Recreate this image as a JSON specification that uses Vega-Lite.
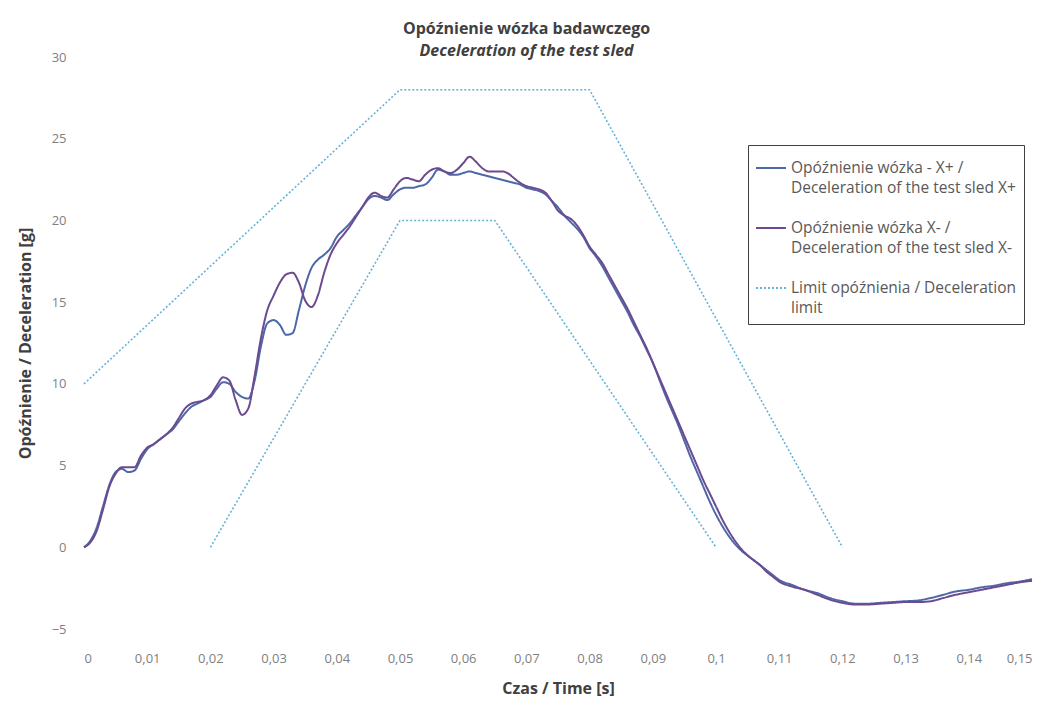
{
  "$schema": "https://vega.github.io/schema/vega-lite/v6.json",
  "width": 948,
  "height": 572,
  "autosize": {"type": "none"},
  "padding": {"left": 84, "top": 57, "right": 20, "bottom": 77},
  "background": "white",
  "config": {
    "view": {"stroke": null},
    "font": "Open Sans",
    "style": {"guide-label": {"lineHeight": 20}},
    "legend": {
      "orient": "none",
      "legendX": 664,
      "legendY": 88,
      "strokeColor": "#404040",
      "fillColor": "white",
      "padding": 7,
      "symbolType": "stroke",
      "symbolSize": 900,
      "symbolStrokeWidth": 2,
      "labelFontSize": 15.5,
      "labelColor": "#595959",
      "labelLimit": 320,
      "labelOffset": 4,
      "rowPadding": 15
    }
  },
  "title": {
    "text": "Opóźnienie wózka badawczego",
    "subtitle": "Deceleration of the test sled",
    "fontSize": 16,
    "fontWeight": "bold",
    "color": "#404040",
    "subtitleFontSize": 16,
    "subtitleFontStyle": "italic",
    "subtitleFontWeight": "bold",
    "subtitleColor": "#404040",
    "anchor": "middle",
    "frame": "bounds",
    "offset": -8,
    "subtitlePadding": 6
  },
  "datasets": {
    "curves": [
      {"s":"X+","t":0,"v":0},{"s":"X+","t":0.001,"v":0.4},{"s":"X+","t":0.002,"v":1.2},{"s":"X+","t":0.003,"v":2.5},{"s":"X+","t":0.004,"v":3.8},{"s":"X+","t":0.005,"v":4.6},{"s":"X+","t":0.006,"v":4.8},{"s":"X+","t":0.007,"v":4.6},{"s":"X+","t":0.008,"v":4.7},{"s":"X+","t":0.009,"v":5.4},
      {"s":"X+","t":0.010,"v":6.0},{"s":"X+","t":0.011,"v":6.3},{"s":"X+","t":0.012,"v":6.6},{"s":"X+","t":0.013,"v":6.9},{"s":"X+","t":0.014,"v":7.2},{"s":"X+","t":0.015,"v":7.7},{"s":"X+","t":0.016,"v":8.2},{"s":"X+","t":0.017,"v":8.6},{"s":"X+","t":0.018,"v":8.8},{"s":"X+","t":0.019,"v":9.0},
      {"s":"X+","t":0.020,"v":9.2},{"s":"X+","t":0.021,"v":9.7},{"s":"X+","t":0.022,"v":10.1},{"s":"X+","t":0.023,"v":10.0},{"s":"X+","t":0.024,"v":9.5},{"s":"X+","t":0.025,"v":9.2},{"s":"X+","t":0.026,"v":9.1},{"s":"X+","t":0.027,"v":10.2},{"s":"X+","t":0.028,"v":12.3},{"s":"X+","t":0.029,"v":13.7},
      {"s":"X+","t":0.030,"v":13.9},{"s":"X+","t":0.031,"v":13.6},{"s":"X+","t":0.032,"v":13.0},{"s":"X+","t":0.033,"v":13.1},{"s":"X+","t":0.034,"v":14.5},{"s":"X+","t":0.035,"v":16.0},{"s":"X+","t":0.036,"v":17.1},{"s":"X+","t":0.037,"v":17.6},{"s":"X+","t":0.038,"v":17.9},{"s":"X+","t":0.039,"v":18.3},
      {"s":"X+","t":0.040,"v":19.0},{"s":"X+","t":0.041,"v":19.4},{"s":"X+","t":0.042,"v":19.8},{"s":"X+","t":0.043,"v":20.3},{"s":"X+","t":0.044,"v":20.8},{"s":"X+","t":0.045,"v":21.3},{"s":"X+","t":0.046,"v":21.5},{"s":"X+","t":0.047,"v":21.4},{"s":"X+","t":0.048,"v":21.25},{"s":"X+","t":0.049,"v":21.6},
      {"s":"X+","t":0.050,"v":21.9},{"s":"X+","t":0.051,"v":22.0},{"s":"X+","t":0.052,"v":22.0},{"s":"X+","t":0.053,"v":22.1},{"s":"X+","t":0.054,"v":22.2},{"s":"X+","t":0.055,"v":22.6},{"s":"X+","t":0.056,"v":23.1},{"s":"X+","t":0.057,"v":23.0},{"s":"X+","t":0.058,"v":22.8},{"s":"X+","t":0.059,"v":22.8},
      {"s":"X+","t":0.060,"v":22.9},{"s":"X+","t":0.061,"v":23.0},{"s":"X+","t":0.062,"v":22.9},{"s":"X+","t":0.063,"v":22.8},{"s":"X+","t":0.064,"v":22.7},{"s":"X+","t":0.065,"v":22.6},{"s":"X+","t":0.066,"v":22.5},{"s":"X+","t":0.067,"v":22.4},{"s":"X+","t":0.068,"v":22.3},{"s":"X+","t":0.069,"v":22.2},
      {"s":"X+","t":0.070,"v":22.0},{"s":"X+","t":0.071,"v":21.9},{"s":"X+","t":0.072,"v":21.8},{"s":"X+","t":0.073,"v":21.6},{"s":"X+","t":0.074,"v":21.2},{"s":"X+","t":0.075,"v":20.8},{"s":"X+","t":0.076,"v":20.3},{"s":"X+","t":0.077,"v":19.9},{"s":"X+","t":0.078,"v":19.5},{"s":"X+","t":0.079,"v":19.0},
      {"s":"X+","t":0.080,"v":18.3},{"s":"X+","t":0.081,"v":17.8},{"s":"X+","t":0.082,"v":17.2},{"s":"X+","t":0.083,"v":16.5},{"s":"X+","t":0.084,"v":15.8},{"s":"X+","t":0.085,"v":15.1},{"s":"X+","t":0.086,"v":14.4},{"s":"X+","t":0.087,"v":13.6},{"s":"X+","t":0.088,"v":12.9},{"s":"X+","t":0.089,"v":12.1},
      {"s":"X+","t":0.090,"v":11.3},{"s":"X+","t":0.091,"v":10.3},{"s":"X+","t":0.092,"v":9.3},{"s":"X+","t":0.093,"v":8.4},{"s":"X+","t":0.094,"v":7.5},{"s":"X+","t":0.095,"v":6.5},{"s":"X+","t":0.096,"v":5.5},{"s":"X+","t":0.097,"v":4.6},{"s":"X+","t":0.098,"v":3.7},{"s":"X+","t":0.099,"v":2.8},
      {"s":"X+","t":0.100,"v":2.0},{"s":"X+","t":0.101,"v":1.3},{"s":"X+","t":0.102,"v":0.7},{"s":"X+","t":0.103,"v":0.2},{"s":"X+","t":0.104,"v":-0.2},{"s":"X+","t":0.105,"v":-0.5},{"s":"X+","t":0.106,"v":-0.8},{"s":"X+","t":0.107,"v":-1.1},{"s":"X+","t":0.108,"v":-1.4},{"s":"X+","t":0.109,"v":-1.7},
      {"s":"X+","t":0.110,"v":-2.0},{"s":"X+","t":0.112,"v":-2.3},{"s":"X+","t":0.114,"v":-2.6},{"s":"X+","t":0.116,"v":-2.8},{"s":"X+","t":0.118,"v":-3.1},{"s":"X+","t":0.120,"v":-3.3},{"s":"X+","t":0.122,"v":-3.45},{"s":"X+","t":0.124,"v":-3.45},{"s":"X+","t":0.126,"v":-3.4},{"s":"X+","t":0.128,"v":-3.35},
      {"s":"X+","t":0.130,"v":-3.3},{"s":"X+","t":0.132,"v":-3.25},{"s":"X+","t":0.134,"v":-3.1},{"s":"X+","t":0.136,"v":-2.9},{"s":"X+","t":0.138,"v":-2.7},{"s":"X+","t":0.140,"v":-2.6},{"s":"X+","t":0.142,"v":-2.45},{"s":"X+","t":0.144,"v":-2.35},{"s":"X+","t":0.146,"v":-2.2},{"s":"X+","t":0.148,"v":-2.1},{"s":"X+","t":0.150,"v":-1.95},

      {"s":"X-","t":0,"v":0},{"s":"X-","t":0.001,"v":0.3},{"s":"X-","t":0.002,"v":1.0},{"s":"X-","t":0.003,"v":2.3},{"s":"X-","t":0.004,"v":3.7},{"s":"X-","t":0.005,"v":4.5},{"s":"X-","t":0.006,"v":4.9},{"s":"X-","t":0.007,"v":4.9},{"s":"X-","t":0.008,"v":4.9},{"s":"X-","t":0.009,"v":5.6},
      {"s":"X-","t":0.010,"v":6.1},{"s":"X-","t":0.011,"v":6.3},{"s":"X-","t":0.012,"v":6.6},{"s":"X-","t":0.013,"v":6.9},{"s":"X-","t":0.014,"v":7.3},{"s":"X-","t":0.015,"v":7.9},{"s":"X-","t":0.016,"v":8.5},{"s":"X-","t":0.017,"v":8.8},{"s":"X-","t":0.018,"v":8.9},{"s":"X-","t":0.019,"v":9.0},
      {"s":"X-","t":0.020,"v":9.3},{"s":"X-","t":0.021,"v":9.9},{"s":"X-","t":0.022,"v":10.4},{"s":"X-","t":0.023,"v":10.2},{"s":"X-","t":0.024,"v":9.0},{"s":"X-","t":0.025,"v":8.1},{"s":"X-","t":0.026,"v":8.5},{"s":"X-","t":0.027,"v":10.5},{"s":"X-","t":0.028,"v":12.8},{"s":"X-","t":0.029,"v":14.5},
      {"s":"X-","t":0.030,"v":15.4},{"s":"X-","t":0.031,"v":16.2},{"s":"X-","t":0.032,"v":16.7},{"s":"X-","t":0.033,"v":16.8},{"s":"X-","t":0.034,"v":16.2},{"s":"X-","t":0.035,"v":15.1},{"s":"X-","t":0.036,"v":14.7},{"s":"X-","t":0.037,"v":15.4},{"s":"X-","t":0.038,"v":16.8},{"s":"X-","t":0.039,"v":17.9},
      {"s":"X-","t":0.040,"v":18.6},{"s":"X-","t":0.041,"v":19.1},{"s":"X-","t":0.042,"v":19.6},{"s":"X-","t":0.043,"v":20.2},{"s":"X-","t":0.044,"v":20.8},{"s":"X-","t":0.045,"v":21.4},{"s":"X-","t":0.046,"v":21.7},{"s":"X-","t":0.047,"v":21.5},{"s":"X-","t":0.048,"v":21.4},{"s":"X-","t":0.049,"v":21.9},
      {"s":"X-","t":0.050,"v":22.4},{"s":"X-","t":0.051,"v":22.6},{"s":"X-","t":0.052,"v":22.5},{"s":"X-","t":0.053,"v":22.4},{"s":"X-","t":0.054,"v":22.8},{"s":"X-","t":0.055,"v":23.1},{"s":"X-","t":0.056,"v":23.2},{"s":"X-","t":0.057,"v":23.0},{"s":"X-","t":0.058,"v":22.9},{"s":"X-","t":0.059,"v":23.1},
      {"s":"X-","t":0.060,"v":23.5},{"s":"X-","t":0.061,"v":23.9},{"s":"X-","t":0.062,"v":23.6},{"s":"X-","t":0.063,"v":23.2},{"s":"X-","t":0.064,"v":23.0},{"s":"X-","t":0.065,"v":23.0},{"s":"X-","t":0.066,"v":23.0},{"s":"X-","t":0.067,"v":22.9},{"s":"X-","t":0.068,"v":22.6},{"s":"X-","t":0.069,"v":22.3},
      {"s":"X-","t":0.070,"v":22.1},{"s":"X-","t":0.071,"v":22.0},{"s":"X-","t":0.072,"v":21.9},{"s":"X-","t":0.073,"v":21.7},{"s":"X-","t":0.074,"v":21.2},{"s":"X-","t":0.075,"v":20.6},{"s":"X-","t":0.076,"v":20.3},{"s":"X-","t":0.077,"v":20.1},{"s":"X-","t":0.078,"v":19.7},{"s":"X-","t":0.079,"v":19.1},
      {"s":"X-","t":0.080,"v":18.4},{"s":"X-","t":0.081,"v":17.9},{"s":"X-","t":0.082,"v":17.4},{"s":"X-","t":0.083,"v":16.7},{"s":"X-","t":0.084,"v":16.0},{"s":"X-","t":0.085,"v":15.3},{"s":"X-","t":0.086,"v":14.6},{"s":"X-","t":0.087,"v":13.8},{"s":"X-","t":0.088,"v":13.0},{"s":"X-","t":0.089,"v":12.2},
      {"s":"X-","t":0.090,"v":11.3},{"s":"X-","t":0.091,"v":10.4},{"s":"X-","t":0.092,"v":9.5},{"s":"X-","t":0.093,"v":8.6},{"s":"X-","t":0.094,"v":7.7},{"s":"X-","t":0.095,"v":6.8},{"s":"X-","t":0.096,"v":5.9},{"s":"X-","t":0.097,"v":5.0},{"s":"X-","t":0.098,"v":4.1},{"s":"X-","t":0.099,"v":3.3},
      {"s":"X-","t":0.100,"v":2.5},{"s":"X-","t":0.101,"v":1.7},{"s":"X-","t":0.102,"v":1.0},{"s":"X-","t":0.103,"v":0.4},{"s":"X-","t":0.104,"v":-0.1},{"s":"X-","t":0.105,"v":-0.5},{"s":"X-","t":0.106,"v":-0.8},{"s":"X-","t":0.107,"v":-1.1},{"s":"X-","t":0.108,"v":-1.5},{"s":"X-","t":0.109,"v":-1.8},
      {"s":"X-","t":0.110,"v":-2.1},{"s":"X-","t":0.112,"v":-2.4},{"s":"X-","t":0.114,"v":-2.6},{"s":"X-","t":0.116,"v":-2.9},{"s":"X-","t":0.118,"v":-3.2},{"s":"X-","t":0.120,"v":-3.4},{"s":"X-","t":0.122,"v":-3.5},{"s":"X-","t":0.124,"v":-3.5},{"s":"X-","t":0.126,"v":-3.45},{"s":"X-","t":0.128,"v":-3.4},
      {"s":"X-","t":0.130,"v":-3.35},{"s":"X-","t":0.132,"v":-3.35},{"s":"X-","t":0.134,"v":-3.3},{"s":"X-","t":0.136,"v":-3.1},{"s":"X-","t":0.138,"v":-2.9},{"s":"X-","t":0.140,"v":-2.75},{"s":"X-","t":0.142,"v":-2.6},{"s":"X-","t":0.144,"v":-2.45},{"s":"X-","t":0.146,"v":-2.3},{"s":"X-","t":0.148,"v":-2.15},{"s":"X-","t":0.150,"v":-2.05}
    ],
    "limits": [
      {"s":"Limit","part":"upper","t":0,"v":10},
      {"s":"Limit","part":"upper","t":0.05,"v":28},
      {"s":"Limit","part":"upper","t":0.08,"v":28},
      {"s":"Limit","part":"upper","t":0.12,"v":0},
      {"s":"Limit","part":"lower","t":0.02,"v":0},
      {"s":"Limit","part":"lower","t":0.05,"v":20},
      {"s":"Limit","part":"lower","t":0.065,"v":20},
      {"s":"Limit","part":"lower","t":0.1,"v":0}
    ]
  },
  "encoding": {
    "x": {
      "field": "t", "type": "quantitative",
      "scale": {"domain": [0, 0.15], "nice": false, "zero": false},
      "axis": {
        "title": "Czas / Time [s]",
        "values": [0,0.01,0.02,0.03,0.04,0.05,0.06,0.07,0.08,0.09,0.1,0.11,0.12,0.13,0.14,0.15],
        "labelExpr": "replace(format(datum.value, '.2~f'), '.', ',')",
        "grid": false, "domain": false, "ticks": false,
        "labelPadding": 23, "labelFontSize": 13, "labelColor": "#7f7f7f",
        "titleFontSize": 16, "titleColor": "#404040", "titleFontWeight": "bold", "titlePadding": 15
      }
    },
    "y": {
      "field": "v", "type": "quantitative",
      "scale": {"domain": [-5, 30], "nice": false, "zero": false},
      "axis": {
        "title": "Opóźnienie / Deceleration [g]",
        "values": [-5,0,5,10,15,20,25,30],
        "grid": false, "domain": false, "ticks": false,
        "labelPadding": 18, "labelFontSize": 13, "labelColor": "#7f7f7f",
        "titleFontSize": 16, "titleColor": "#404040", "titleFontWeight": "bold", "titlePadding": 18
      }
    },
    "color": {
      "field": "s", "type": "nominal",
      "scale": {"domain": ["X+", "X-", "Limit"], "range": ["#4d68a8", "#6c4a90", "#66b2d8"]},
      "legend": {
        "title": null,
        "labelExpr": "datum.label == 'X+' ? ['Opóźnienie wózka - X+ /', 'Deceleration of the test sled X+'] : datum.label == 'X-' ? ['Opóźnienie wózka X- /', 'Deceleration of the test sled X-'] : ['Limit opóźnienia / Deceleration', 'limit']"
      }
    },
    "strokeDash": {
      "field": "s", "type": "nominal",
      "scale": {"domain": ["X+", "X-", "Limit"], "range": [[1, 0], [1, 0], [2, 2]]},
      "legend": {
        "title": null,
        "labelExpr": "datum.label == 'X+' ? ['Opóźnienie wózka - X+ /', 'Deceleration of the test sled X+'] : datum.label == 'X-' ? ['Opóźnienie wózka X- /', 'Deceleration of the test sled X-'] : ['Limit opóźnienia / Deceleration', 'limit']"
      }
    }
  },
  "layer": [
    {
      "data": {"name": "limits"},
      "mark": {"type": "line", "strokeWidth": 1.6},
      "encoding": {"detail": {"field": "part", "type": "nominal"}}
    },
    {
      "data": {"name": "curves"},
      "mark": {"type": "line", "strokeWidth": 2, "interpolate": "monotone"},
      "encoding": {}
    }
  ]
}
